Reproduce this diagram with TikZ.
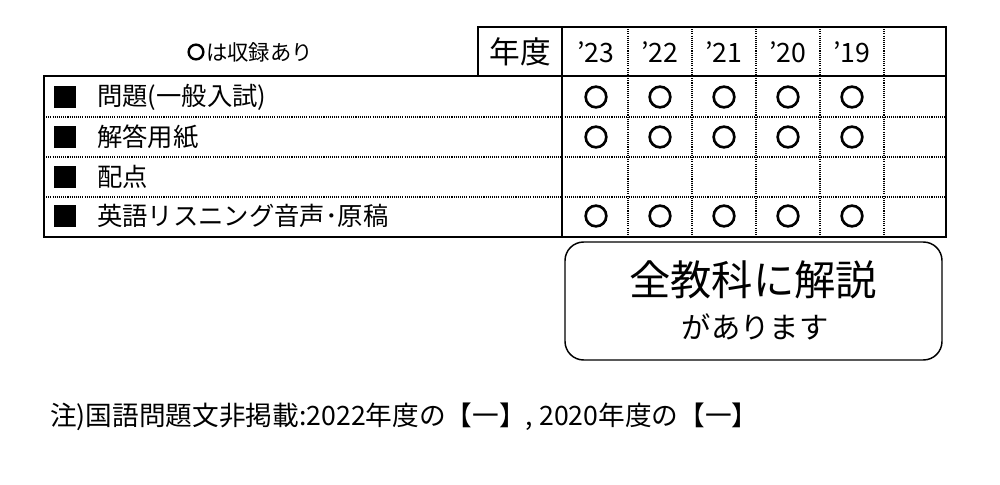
\documentclass[tikz,border=0pt]{standalone}
\usepackage{fontspec}
\setmainfont{Noto Sans CJK JP}
\begin{document}
\begin{tikzpicture}[x=0.75pt,y=-0.75pt,
  solid line/.style={line width=2.2pt},
  dot line/.style={line width=1.3pt,dash pattern=on 0.8pt off 0.8pt},
  lbl/.style={anchor=west,font=\fontsize{19}{19}\selectfont,inner sep=0},
  yr/.style={font=\fontsize{20}{20}\selectfont,inner sep=0},
  okmark/.style={circle,draw,line width=2pt,minimum size=15.5pt,inner sep=0},
  sq/.style={fill=black,minimum size=17pt,inner sep=0}]
\useasboundingbox (0,0) rectangle (1000,485);
% dotted rows
\foreach \y in {117,157,197}{\draw[dot line] (44,\y) -- (946,\y);}
\foreach \x in {628,692,756,820,884}{\draw[dot line] (\x,27) -- (\x,237);}
% frames
\draw[solid line] (44,76) rectangle (946,237);
\draw[solid line] (478,27) rectangle (562,76);
\draw[solid line] (562,27) rectangle (946,76);
\draw[solid line] (562,76) -- (562,237);
\node[okmark,minimum size=11pt,line width=1.8pt] (legc) at (196,52) {};
\node[anchor=west,font=\fontsize{16}{16}\selectfont,inner sep=0] (legend) at (206,52) {は収録あり};
\node[font=\fontsize{23}{23}\selectfont,inner sep=0] (nendo) at (520,52) {年度};
\foreach \t/\x [count=\i] in {’23/596,’22/660,’21/724,’20/788,’19/852}{
  \node[yr] (y\i) at (\x,52) {\t};}
\foreach \n/\t/\y in {r1/問題(一般入試)/97,r2/解答用紙/137,r3/配点/177,r4/英語リスニング音声･原稿/216}{
  \node[sq] (\n s) at (65,\y) {};
  \node[lbl] (\n) at (97,\y) {\t};}
\foreach \y [count=\j] in {97,137,216}{
  \foreach \x [count=\i] in {596,660,724,788,852}{
    \node[okmark] (m\j\i) at (\x,\y) {};}}
\draw[line width=1.1pt,rounded corners=14pt] (565,242) rectangle (942,360);
\node[font=\fontsize{31}{31}\selectfont] (kai) at (753,280) {全教科に解説};
\node[font=\fontsize{22}{22}\selectfont] (ari) at (755,327) {があります};
\node[anchor=west,font=\fontsize{20}{20}\selectfont,inner sep=0] (note) at (50,417) {注)国語問題文非掲載:2022年度の【一】, 2020年度の【一】};
\end{tikzpicture}
\end{document}
